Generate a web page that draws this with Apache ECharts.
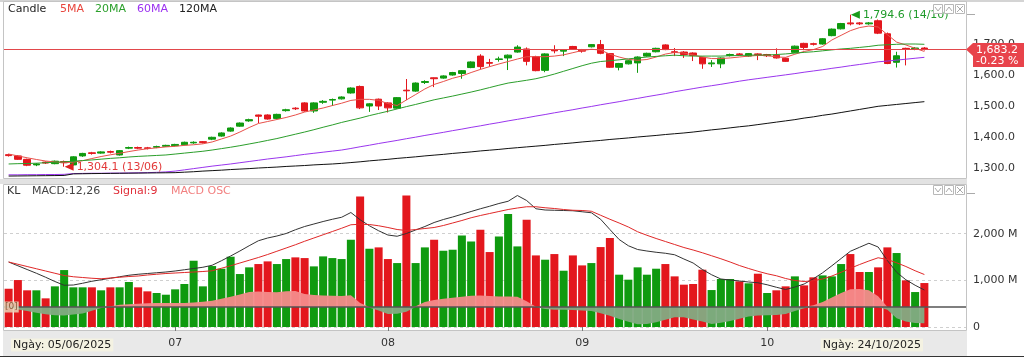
<!DOCTYPE html>
<html><head><meta charset="utf-8">
<script src="https://cdn.jsdelivr.net/npm/echarts@6/dist/echarts.min.js"></script>
<style>html,body{margin:0;padding:0;background:#fff}#c{width:1024px;height:358px}</style>
</head><body><div id="c"></div>
<script>
// ---- categories (trading days) ----
const junDays = [5,6,9,10,11,12,13,16,17,18,19,20,23,24,25,26,27,30];
const julDays = [1,2,3,4,7,8,9,10,11,14,15,16,17,18,21,22,23,24,25,28,29,30,31];
const augDays = [1,4,5,6,7,8,11,12,13,14,15,18,19,20,21,22,25,26,27,28,29];
const sepDays = [3,4,5,8,9,10,11,12,15,16,17,18,19,22,23,24,25,26,29,30];
const octDays = [1,2,3,6,7,8,9,10,13,14,15,16,17,20,21,22,23,24];
const pad = n => (n < 10 ? '0' : '') + n;
const dates = [].concat(
  junDays.map(d => pad(d) + '/06/2025'), julDays.map(d => pad(d) + '/07/2025'),
  augDays.map(d => pad(d) + '/08/2025'), sepDays.map(d => pad(d) + '/09/2025'),
  octDays.map(d => pad(d) + '/10/2025'));

// ---- price candles ----
const opens = [1343,1339,1328,1310,1319,1314,1321,1310,1339,1349, 1348,1353,1342,1364,1366,1365,1367,1370,1372,1375,
 1381,1385,1393,1403,1419,1435,1452,1471,1471,1460, 1485,1493,1510,1484,1512,1519,1523,1542,1563,1500,
 1522,1510,1493,1551,1548,1576,1591,1590,1600,1605, 1624,1661,1640,1650,1655,1674,1684,1659,1615,1681,
 1677,1692,1680,1691,1698,1669,1625,1636,1639,1661, 1675,1697,1675,1674,1671,1657,1636,1636,1663,1668,
 1661,1668,1666,1664,1654,1673,1702,1701,1700,1727, 1749,1768,1768,1765,1775,1733,1641,1686,1685,1687];
const closes = [1340,1328,1309,1313,1316,1322,1317,1336,1347,1347, 1352,1351,1356,1366,1364,1363,1369,1373,1376,1383,
 1383,1382,1399,1413,1429,1445,1456,1467,1458,1473, 1488,1491,1484,1510,1515,1521,1529,1558,1494,1507,
 1500,1494,1527,1549,1574,1579,1588,1597,1608,1614, 1642,1627,1638,1652,1664,1690,1644,1614,1668,1678,
 1680,1684,1677,1698,1670,1625,1637,1646,1658,1670, 1686,1682,1673,1666,1663,1636,1639,1655,1666,1666,
 1669,1666,1662,1655,1644,1693,1689,1699,1717,1748, 1766,1765,1765,1768,1735,1637,1662,1684,1687,1683.2];
const lows = [1337,1326,1306,1306,1313,1312,1304.1,1308,1336,1343, 1346,1347,1340,1361,1361,1360,1364,1368,1370,1373,
 1378,1379,1390,1401,1417,1433,1449,1445,1456,1457, 1482,1487,1482,1478,1507,1500,1521,1540,1490,1481,
 1487,1479,1491,1519,1546,1571,1561,1588,1598,1588, 1622,1618,1627,1643,1616,1672,1631,1612,1609,1670,
 1661,1682,1672,1689,1667,1623,1615,1634,1607,1659, 1673,1680,1661,1655,1645,1620,1626,1622,1660,1662,
 1659,1648,1658,1653,1642,1671,1680,1695,1698,1725, 1747,1760,1761,1762,1732,1635,1624,1631,1680,1679];
const highs = [1346,1341,1330,1316,1321,1324,1324,1338,1349,1352, 1354,1356,1358,1369,1369,1368,1372,1375,1378,1385,
 1386,1387,1401,1415,1431,1447,1459,1472,1473,1475, 1491,1496,1512,1512,1519,1524,1531,1560,1566,1509,
 1524,1512,1529,1587,1576,1583,1592,1599,1610,1616, 1644,1667,1652,1659,1666,1696,1689,1662,1670,1696,
 1682,1694,1684,1700,1713,1671,1639,1648,1660,1672, 1688,1699,1687,1677,1673,1659,1648,1657,1669,1671,
 1671,1670,1668,1686,1656,1695,1704,1704,1719,1750, 1768,1794.6,1771,1771,1779,1737,1675,1688,1690,1690];

// ---- moving averages ----
const ma5 = [1345,1339,1333,1327.5,1322.5,1319.5,1317,1319,1323.5,1330.5, 1337,1342.5,1347.5,1353,1358,1362,1365,1368,1370,1373,
 1375,1378,1384,1393.5,1403,1416,1430.5,1443.5,1450,1456.5, 1463,1471,1480.5,1487,1493.5,1501.5,1509,1518,1521.5,1521.5,
 1518,1508,1501.5,1519.5,1537,1555,1569.5,1579,1589.5,1597, 1608,1618,1627,1635.5,1643.5,1651.5,1659,1659,1659,1661,
 1665,1672,1679,1683,1680.5,1667,1658,1650.5,1647.5,1650, 1658,1667.5,1672.5,1671,1664.5,1658,1653,1653,1655,1658,
 1661,1663,1663,1658,1657,1667,1676,1682,1692,1713, 1728,1743,1753,1758,1755,1730,1706,1697,1686,1676];
const ma20 = [1313,1314,1314.5,1315.5,1317,1318.5,1320,1322,1324,1326, 1328.5,1331,1333,1335.5,1337.5,1339,1340.5,1342,1345,1348,
 1351,1354,1358,1362.5,1367,1372,1377.5,1383,1389,1395, 1402,1409,1416,1423.5,1431.5,1439,1447,1454,1461,1469,
 1476,1483,1490.5,1498,1505,1512.5,1520,1526,1532,1538.5, 1545,1552,1559.5,1567,1574,1578.5,1583,1588,1595,1603,
 1612,1621,1630,1638,1643.5,1646,1649,1652,1655,1658, 1660,1662,1664,1662,1661,1661,1661,1661,1662,1663,
 1664,1664.5,1664.5,1666,1668,1670.5,1673,1675,1678,1681, 1684,1686,1689,1692,1696,1697.5,1699,1700,1700,1699];
const ma60 = [1278,1278,1278.5,1278.5,1279,1279,1279.5,1282,1282.5,1283, 1283,1283.5,1283.5,1284,1284.5,1285,1286,1287.5,1290,1294,
 1298,1302,1306,1309.5,1313,1317,1321,1325,1329,1332.5, 1336,1340,1344,1347.5,1351,1354.5,1358,1363,1368.5,1373.5,
 1379,1384,1389,1394.5,1399.5,1405,1410,1415,1420.5,1425.5, 1431,1436,1441.5,1446.5,1452,1457,1462,1467.5,1472.5,1478,
 1483,1488,1493.5,1498.5,1504,1509,1514,1519.5,1524.5,1530, 1535,1540,1546,1551,1556,1561,1565.5,1570,1575,1580,
 1584.5,1588.5,1592.5,1596.5,1600.5,1604.5,1609,1613,1617,1621.5, 1625.5,1630,1634,1638,1642.5,1645,1648,1651,1654,1657];
const ma120 = [1274,1274.3,1274.6,1275,1275.3,1275.6,1276,1281,1281.5,1282, 1282.3,1282.6,1283,1283.3,1283.6,1284,1284.3,1284.6,1285,1286.5,
 1288,1290,1291.5,1293,1295,1296.5,1298,1300,1301.5,1303, 1305,1306.5,1308,1310,1311.5,1313,1315,1317.5,1320,1323,
 1325.5,1328,1331,1333.5,1336,1339,1341.5,1344,1347,1349.5, 1352,1355,1357.5,1360,1363,1365.5,1368,1370.5,1373,1376,
 1378.5,1381,1384,1386.5,1389,1392,1394.5,1397,1400,1402.5, 1405,1408,1410.5,1413,1416,1419.5,1423,1426,1429.5,1433,
 1436,1440,1444,1448,1452,1456,1461,1465,1470,1474, 1479,1484,1489,1494,1499,1502,1505,1508,1511,1514];

// ---- volume (millions) and its colour direction (1 = up/green) ----
const volumes = [820,1006,786,786,614,871,1220,850,850,850, 786,850,850,964,850,764,728,692,807,921,
 1420,871,1306,1249,1506,1135,1278,1349,1406,1349, 1456,1492,1477,1299,1513,1477,1456,1870,2799,1677,
 1706,1456,1370,2820,1370,1706,1870,1634,1656,1963, 1834,2084,1606,1941,2420,1727,2298,1534,1442,1563,
 1206,1534,1320,1370,1713,1906,1121,1014,1278,1121, 1249,1349,1085,907,921,1228,792,1028,1028,978,
 936,1142,728,786,871,1085,892,1064,1106,1085, 1349,1563,1178,1178,1278,1706,1585,1000,749,942];
const volUp = [0,0,0,1,0,1,1,1,1,0, 1,0,1,1,0,0,1,1,1,1, 1,1,1,1,1,1,1,0,0,1, 1,0,0,1,1,1,1,1,0,1,
 0,0,1,0,1,1,0,1,1,1, 1,0,0,1,1,1,0,0,1,0, 1,0,0,1,0,0,1,1,1,1, 1,0,0,0,0,0,1,1,1,0,
 1,0,1,0,0,1,0,0,1,1, 1,0,0,1,0,0,1,0,1,0];

// ---- MACD (12,26), Signal (9), OSC ----
const macd = [18.0,16.5,15.0,13.5,11.9,10.2,8.7,8.8,9.5,10.3, 10.9,11.5,12.1,12.7,13.1,13.4,13.7,14.0,14.4,14.9,
 15.4,15.9,16.7,18.5,20.4,22.4,24.5,26.5,27.6,28.4, 29.4,30.9,32.2,33.2,34.2,35.1,35.9,37.8,34.9,32.5,
 30.5,28.8,28.3,29.4,30.8,32.2,33.8,35.0,36.0,37.1, 38.2,39.3,40.3,41.4,42.3,44.6,42.6,39.3,38.8,38.7,
 38.6,38.5,38.1,37.7,35.1,31.0,27.0,24.5,23.0,22.4, 21.9,21.5,20.9,19.2,17.6,15.0,12.9,11.2,10.8,10.4,
 10.0,9.7,8.9,7.9,7.0,8.0,9.2,11.3,13.7,16.5, 19.4,22.3,23.9,25.5,24.0,18.6,13.9,10.9,8.7,6.8];
const signal = [18.0,17.1,16.2,15.3,14.4,13.5,12.6,12.1,11.8,11.5, 11.3,11.6,11.9,12.2,12.4,12.8,13.1,13.4,13.6,13.8,
 14.0,14.2,14.5,15.5,16.5,17.6,18.7,19.8,21.0,22.3, 23.6,24.9,26.3,27.6,28.9,30.2,31.5,32.9,33.1,33.0,
 32.5,31.8,31.0,30.6,31.0,31.4,31.8,32.6,33.6,34.6, 35.7,36.6,37.4,38.2,39.0,39.6,40.1,40.1,39.7,39.4,
 39.0,38.7,38.6,38.3,36.7,35.1,33.6,32.0,30.1,28.7, 27.4,26.2,25.0,23.8,22.8,21.7,20.5,19.3,18.0,16.6,
 15.4,14.3,13.3,12.5,11.4,10.6,10.2,10.5,11.2,12.4, 13.9,15.5,17.0,18.4,19.7,19.0,17.7,16.2,14.5,13.0];
const osc = [-0.3,-1.0,-1.6,-2.3,-2.9,-3.3,-3.4,-3.0,-2.6,-1.5, -0.4,0.3,0.9,1.1,1.3,1.5,1.6,1.6,1.6,1.6,
 1.8,2.1,2.5,3.3,4.1,5.0,6.0,6.2,6.0,5.9, 6.3,6.4,5.2,4.8,4.6,4.5,4.4,4.7,1.6,-0.3,
 -1.4,-2.8,-2.7,-1.9,0.3,2.0,2.8,3.3,3.7,4.1, 4.5,4.6,4.4,4.2,4.2,4.1,2.3,0.1,-0.8,-1.1,
 -1.1,-1.2,-1.4,-1.6,-2.5,-3.5,-4.8,-5.9,-6.9,-6.8, -6.1,-5.1,-4.1,-4.1,-5.0,-5.8,-6.8,-6.3,-5.6,-4.7,
 -3.8,-3.4,-3.3,-3.2,-2.8,-1.6,-0.5,0.7,2.0,3.8, 5.6,7.1,7.2,6.7,4.3,-1.1,-4.5,-5.8,-6.4,-6.5];

// ---- axis ticks / labels ----
const priceTicks = [1300, 1400, 1500, 1600, 1700];
const volTicks = [0, 1000, 2000];
const changePct = '-0.23 %';

// ---------------------------------------------------------------
const FONT = 'DejaVu Sans';
const GREEN = '#0f9a0f', RED = '#e3171d';
const fmt1 = v => v.toLocaleString('en-US', {minimumFractionDigits: 1, maximumFractionDigits: 1});
const candles = dates.map((d, i) => [opens[i], closes[i], lows[i], highs[i]]);
let hiIdx = 0, loIdx = 0;
highs.forEach((v, i) => { if (v > highs[hiIdx]) hiIdx = i; });
lows.forEach((v, i) => { if (v < lows[loIdx]) loIdx = i; });
const ddmm = s => s.slice(0, 5);
const lastClose = closes[closes.length - 1];
const monthStart = idx => idx > 0 && idx < dates.length && dates[idx].slice(3, 5) !== dates[idx - 1].slice(3, 5);
// OSC split into its positive and negative parts so each can take its own fill
const oscPos = osc.map(v => (v > 0 ? v : 0));
const oscNeg = osc.map(v => (v < 0 ? v : 0));

const txt = (x, y, s, color, extra) => Object.assign({type: 'text', x: x, y: y, z: 100, silent: true,
  style: Object.assign({text: s, fill: color, font: '11px "' + FONT + '"', verticalAlign: 'middle'}, extra || {})});
const box = (x, y) => ({type: 'rect', z: 100, silent: true, shape: {x: x + 0.5, y: y + 0.5, width: 9, height: 9},
  style: {fill: '#fff', stroke: '#b8b8b8', lineWidth: 1}});
const icons = y => [
  box(933, y), box(944, y), box(955, y),
  {type: 'polyline', z: 101, silent: true, shape: {points: [[935, y + 3], [938, y + 7], [941, y + 3]]}, style: {stroke: '#aaa', fill: 'none'}},
  {type: 'polyline', z: 101, silent: true, shape: {points: [[946, y + 7], [949, y + 3], [952, y + 7]]}, style: {stroke: '#aaa', fill: 'none'}},
  {type: 'line', z: 101, silent: true, shape: {x1: 957, y1: y + 2, x2: 963, y2: y + 8}, style: {stroke: '#aaa'}},
  {type: 'line', z: 101, silent: true, shape: {x1: 963, y1: y + 2, x2: 957, y2: y + 8}, style: {stroke: '#aaa'}}
];

const option = {
  animation: false,
  backgroundColor: '#fff',
  textStyle: {fontFamily: FONT},
  grid: [
    {left: 4, right: 58, top: 13, bottom: 159, containLabel: false, outerBoundsMode: 'none'},
    {left: 4, right: 58, top: 187, bottom: 31, containLabel: false, outerBoundsMode: 'none'}
  ],
  xAxis: [
    {type: 'category', gridIndex: 0, data: dates, max: 103, boundaryGap: true,
     axisLine: {show: false}, axisTick: {show: false}, axisLabel: {show: false}, splitLine: {show: false}},
    {type: 'category', gridIndex: 1, data: dates, max: 103, boundaryGap: true, offset: 4,
     axisLine: {show: false},
     axisTick: {show: true, alignWithLabel: true, length: 4, interval: monthStart, lineStyle: {color: '#777'}},
     axisLabel: {show: true, interval: monthStart, margin: 7, color: '#333', fontSize: 11, fontFamily: FONT,
       formatter: v => (v ? v.slice(3, 5) : '')},
     splitLine: {show: false}}
  ],
  yAxis: [
    {type: 'value', gridIndex: 0, position: 'right', min: 1200, max: 1800, interval: 100,
     axisLine: {show: false}, axisTick: {show: false}, splitLine: {show: false},
     axisLabel: {margin: 7, color: '#333', fontSize: 11, fontFamily: FONT, align: 'left',
       formatter: v => (priceTicks.indexOf(v) >= 0 ? fmt1(v) : '')}},
    {type: 'value', gridIndex: 1, position: 'right', min: 0, max: 3000, interval: 1000,
     axisLine: {show: false}, axisTick: {show: false},
     splitLine: {show: true, lineStyle: {type: [3, 3], color: ['#cfcfcf', '#cfcfcf', '#cfcfcf', 'rgba(0,0,0,0)']}},
     axisLabel: {margin: 7, color: '#333', fontSize: 11, fontFamily: FONT, align: 'left',
       formatter: v => (volTicks.indexOf(v) >= 0 ? (v === 0 ? '0' : v.toLocaleString('en-US') + ' M') : '')}},
    {type: 'value', gridIndex: 1, min: -8, max: 48, show: false}
  ],
  series: [
    {type: 'candlestick', name: 'Candle', xAxisIndex: 0, yAxisIndex: 0, data: candles, barWidth: 7, z: 2,
     itemStyle: {color: GREEN, color0: RED, borderColor: GREEN, borderColor0: RED, borderWidth: 1},
     markLine: {silent: true, symbol: ['none', 'none'], label: {show: false},
       lineStyle: {color: '#e2474b', width: 1, type: 'solid'}, data: [{yAxis: lastClose}]},
     markPoint: {symbol: 'triangle', symbolRotate: 90, symbolSize: [8, 9], symbolOffset: [5, 0], silent: true,
       label: {show: true, position: 'right', distance: 3, fontSize: 11, fontFamily: FONT, formatter: p => p.data.txt},
       data: [
         {coord: [hiIdx, highs[hiIdx]], txt: fmt1(highs[hiIdx]) + ' (' + ddmm(dates[hiIdx]) + ')',
          itemStyle: {color: '#1a9a1a'}, label: {color: '#1f9b2a'}},
         {coord: [loIdx, lows[loIdx]], txt: fmt1(lows[loIdx]) + ' (' + ddmm(dates[loIdx]) + ')',
          itemStyle: {color: '#e02020'}, label: {color: '#e23a3a'}}
       ]}},
    {type: 'line', name: '5MA', xAxisIndex: 0, yAxisIndex: 0, data: ma5, symbol: 'none', z: 3, silent: true,
     lineStyle: {color: '#e8504a', width: 1}},
    {type: 'line', name: '20MA', xAxisIndex: 0, yAxisIndex: 0, data: ma20, symbol: 'none', z: 3, silent: true,
     lineStyle: {color: '#2b9e2b', width: 1}},
    {type: 'line', name: '60MA', xAxisIndex: 0, yAxisIndex: 0, data: ma60, symbol: 'none', z: 3, silent: true,
     lineStyle: {color: '#9a35ee', width: 1}},
    {type: 'line', name: '120MA', xAxisIndex: 0, yAxisIndex: 0, data: ma120, symbol: 'none', z: 3, silent: true,
     lineStyle: {color: '#111', width: 1}},
    {type: 'bar', name: 'KL', xAxisIndex: 1, yAxisIndex: 1, data: volumes, barWidth: 8, silent: true,
     itemStyle: {color: p => (volUp[p.dataIndex] ? GREEN : RED)}},
    {type: 'line', name: 'MACD OSC+', xAxisIndex: 1, yAxisIndex: 2, data: oscPos, symbol: 'none', z: 3, silent: true,
     lineStyle: {width: 0}, itemStyle: {color: '#f48b8b'}, areaStyle: {color: '#f48b8b', opacity: 0.95}},
    {type: 'line', name: 'MACD OSC-', xAxisIndex: 1, yAxisIndex: 2, data: oscNeg, symbol: 'none', z: 3, silent: true,
     lineStyle: {width: 0}, itemStyle: {color: '#83ab83'}, areaStyle: {color: '#83ab83', opacity: 0.95},
     markLine: {silent: true, symbol: ['none', 'none'], label: {show: false},
       lineStyle: {color: '#555', width: 1.5, type: 'solid'}, data: [{yAxis: 0}]}},
    {type: 'line', name: 'MACD', xAxisIndex: 1, yAxisIndex: 2, data: macd, symbol: 'none', z: 4, silent: true,
     lineStyle: {color: '#333', width: 1}},
    {type: 'line', name: 'Signal', xAxisIndex: 1, yAxisIndex: 2, data: signal, symbol: 'none', z: 4, silent: true,
     lineStyle: {color: '#e02828', width: 1}}
  ],
  graphic: [
    {type: 'rect', z: -10, silent: true, shape: {x: 0, y: 0, width: 1024, height: 2}, style: {fill: '#d4d4d4'}},
    {type: 'rect', z: -10, silent: true, shape: {x: 3.5, y: 1.5, width: 963, height: 177}, style: {fill: 'none', stroke: '#c4c4c4'}},
    {type: 'rect', z: -10, silent: true, shape: {x: 0, y: 179, width: 967, height: 5}, style: {fill: '#e2e2e2'}},
    {type: 'rect', z: -10, silent: true, shape: {x: 3.5, y: 184.5, width: 963, height: 146}, style: {fill: 'none', stroke: '#c4c4c4'}},
    {type: 'rect', z: -10, silent: true, shape: {x: 3, y: 331, width: 964, height: 25}, style: {fill: '#e9e9e9'}},
    {type: 'line', z: -10, silent: true, shape: {x1: 0, y1: 356.5, x2: 1024, y2: 356.5}, style: {stroke: '#333'}},
    {type: 'line', z: 5, silent: true, shape: {x1: 967, y1: 14.5, x2: 975, y2: 14.5}, style: {stroke: '#aaa'}},
    {type: 'line', z: 5, silent: true, shape: {x1: 967, y1: 193.5, x2: 975, y2: 193.5}, style: {stroke: '#aaa'}},
    // legends
    txt(8, 9, 'Candle', '#222'), txt(60, 9, '5MA', '#e8453c'), txt(95, 9, '20MA', '#2ca02c'),
    txt(137, 9, '60MA', '#9b30f0'), txt(179, 9, '120MA', '#222'),
    txt(7, 191, 'KL', '#333'), txt(32, 191, 'MACD:12,26', '#444'), txt(113, 191, 'Signal:9', '#e0303a'),
    txt(171, 191, 'MACD OSC', '#f28080'),
    // zero marker of MACD panel
    txt(4, 307, '[0]', '#8a5a3a', {font: '9px "' + FONT + '"', backgroundColor: 'rgba(232,214,186,0.85)', padding: [1, 1]}),
    // last price tag
    {type: 'polygon', z: 100, silent: true,
     shape: {points: [[966, 49.5], [973, 43], [1024, 43], [1024, 67], [973, 67], [973, 56]]}, style: {fill: '#e8434b'}},
    txt(976, 50.5, fmt1(lastClose), '#fff'), txt(976, 61.5, changePct, '#fff'),
    // date boxes
    txt(11, 345, 'Ngày: ' + dates[0], '#222', {backgroundColor: '#f4f2e2', padding: [1, 2]}),
    txt(923, 345, 'Ngày: ' + dates[dates.length - 1], '#222', {align: 'right', backgroundColor: '#f4f2e2', padding: [1, 2]})
  ].concat(icons(4), icons(185))
};

const chart = echarts.init(document.getElementById('c'), null, {renderer: 'canvas'});
chart.setOption(option);
</script>
</body></html>
